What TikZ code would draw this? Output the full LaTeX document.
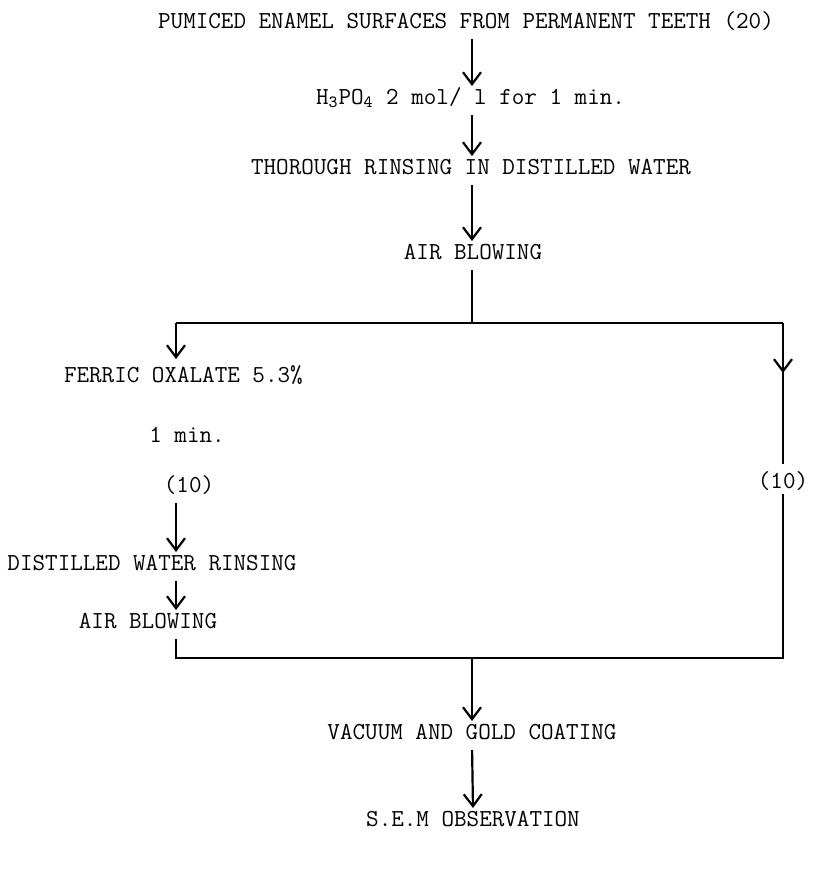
\documentclass[tikz,border=0pt]{standalone}
\usepackage{tikz}
\usetikzlibrary{arrows.meta}

\begin{document}
\begin{tikzpicture}[x=0.5pt, y=-0.5pt,
    txt/.style={font=\fontsize{12.2}{14}\ttfamily, inner sep=1pt, outer sep=0pt,
                text height=8pt, text depth=2pt},
    ln/.style={line width=1.1pt},
    arr/.style={ln, -{Straight Barb[length=6pt, width=9pt, line width=1.1pt]}},
    arrn/.style={arr, shorten <=2.5pt}
  ]
  \useasboundingbox (0,0) rectangle (824,890);

  % main line
  \coordinate (axis) at (472,0);
  \node[txt] (pumiced) at (466,22)
        {PUMICED ENAMEL SURFACES FROM PERMANENT TEETH (20)};
  \node[txt, anchor=west] (acid) at (314,98)
        {H\textsubscript{3}PO\textsubscript{4} 2 mol/ l for 1 min.};
  \node[txt] (rinse) at (471,168) {THOROUGH RINSING IN DISTILLED WATER};
  \node[txt] (blow) at (473,253) {AIR BLOWING};

  \draw[arrn] (pumiced.south -| axis) -- (acid.north -| axis);
  \draw[arrn] (acid.south -| axis) -- (rinse.north -| axis);
  \draw[arrn] (rinse.south -| axis) -- (blow.north -| axis);

  % split
  \coordinate (split)  at (472,323);
  \coordinate (lsplit) at (176,323);
  \coordinate (rsplit) at (783,323);
  \coordinate (rtip)   at (783,373);
  \draw[ln, shorten <=2.5pt] (blow.south -| axis) -- (split);
  \draw[ln] (lsplit) -- (rsplit);

  % left branch
  \node[txt, anchor=west] (ferric) at (62,376) {FERRIC OXALATE 5.3\%};
  \node[txt] (onemin) at (187,436) {1 min.};
  \node[txt] (tenl) at (189,486) {(10)};
  \node[txt] (rinsetwo) at (152,564) {DISTILLED WATER RINSING};
  \node[txt] (blowtwo) at (148,622) {AIR BLOWING};

  \draw[arr, shorten >=2.5pt] (lsplit) -- (ferric.north -| lsplit);
  \draw[arrn] (tenl.south -| lsplit) -- (rinsetwo.north -| lsplit);
  \draw[arrn] (rinsetwo.south -| lsplit) -- (blowtwo.north -| lsplit);

  % right branch
  \node[txt] (tenr) at (783,482) {(10)};
  \draw[ln, shorten >=3pt] (rsplit) -- (tenr.north);
  \draw[arr] (rsplit) -- (rtip);

  % join
  \coordinate (ljoin) at (176,658);
  \coordinate (rjoin) at (783,658);
  \coordinate (join)  at (472,658);
  \draw[ln, shorten <=2.5pt] (blowtwo.south -| ljoin) -- (ljoin) -- (rjoin)
        -- (tenr.south);

  \node[txt] (vacuum) at (472,733) {VACUUM AND GOLD COATING};
  \node[txt] (sem) at (473,820) {S.E.M OBSERVATION};

  \draw[arr] (join) -- (vacuum.north);
  \draw[arrn] (vacuum.south) -- (sem.north);
\end{tikzpicture}
\end{document}
